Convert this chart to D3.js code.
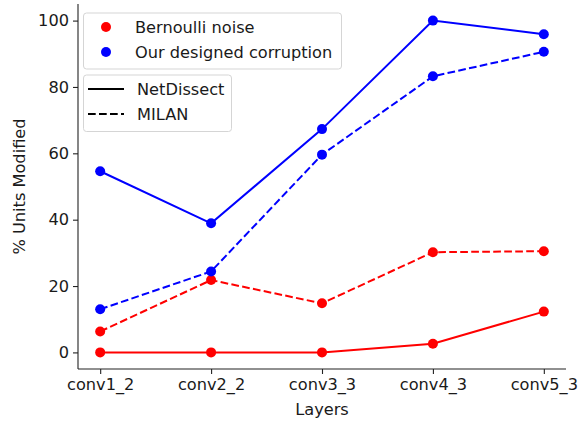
<!DOCTYPE html>
<html lang="en">
<head>
  <meta charset="UTF-8" />
  <title>Units Modified</title>
  <script src="https://d3js.org/d3.v7.min.js"></script>
  <style>
    body { margin: 0; background: white; font-family: "DejaVu Sans", sans-serif; }
    text { font-family: "DejaVu Sans", sans-serif; fill: #1a1a1a; }
  </style>
</head>
<body>
  <svg width="584" height="421"></svg>

  <script>
    const layers = ['conv1_2', 'conv2_2', 'conv3_3', 'conv4_3', 'conv5_3'];
    const yTicks = [0, 20, 40, 60, 80, 100];

    const bernoulliNetDissect = [0, 0, 0, 2.6, 12.3];
    const bernoulliMilan = [6.3, 21.8, 14.8, 30.2, 30.5];
    const designedNetDissect = [54.6, 38.9, 67.3, 100, 95.9];
    const designedMilan = [13.0, 24.4, 59.6, 83.2, 90.6];

    const series = [
      { values: bernoulliNetDissect, color: 'red', dashed: false },
      { values: bernoulliMilan, color: 'red', dashed: true },
      { values: designedNetDissect, color: 'blue', dashed: false },
      { values: designedMilan, color: 'blue', dashed: true },
    ];

    const m = { left: 78, right: 566, top: 4, bottom: 369 };
    const fs = '16.2px';

    const x = d3.scaleLinear().domain([-0.2, layers.length - 1 + 0.2]).range([m.left, m.right]);
    const y = d3.scaleLinear().domain([-5, 105]).range([m.bottom, m.top]);

    const svg = d3.select('svg');

    // axes
    const xAxis = svg.append('g')
      .attr('transform', `translate(0,${m.bottom})`)
      .call(d3.axisBottom(x).tickValues(d3.range(layers.length)).tickFormat(i => layers[i]).tickSize(5).tickPadding(4));
    const yAxis = svg.append('g')
      .attr('transform', `translate(${m.left},0)`)
      .call(d3.axisLeft(y).tickValues(yTicks).tickSize(5).tickPadding(4));

    [xAxis, yAxis].forEach(a => {
      a.selectAll('.domain').attr('stroke', '#222').attr('stroke-width', 1.1);
      a.selectAll('.tick line').attr('stroke', '#222').attr('stroke-width', 1.1);
      a.selectAll('.tick text').attr('font-size', fs).attr('fill', '#1a1a1a');
    });
    xAxis.select('.domain').attr('d', `M${m.left},0H${m.right}`);
    yAxis.select('.domain').attr('d', `M0,${m.bottom}V${m.top}`);

    svg.append('text')
      .attr('x', (m.left + m.right) / 2)
      .attr('y', 415)
      .attr('text-anchor', 'middle')
      .attr('font-size', fs)
      .text('Layers');

    svg.append('text')
      .attr('transform', `translate(25,${(m.top + m.bottom) / 2}) rotate(-90)`)
      .attr('text-anchor', 'middle')
      .attr('font-size', fs)
      .text('% Units Modified');

    const line = d3.line().x((d, i) => x(i)).y(d => y(d));

    const g = svg.append('g');
    series.forEach(s => {
      g.append('path')
        .attr('d', line(s.values))
        .attr('fill', 'none')
        .attr('stroke', s.color)
        .attr('stroke-width', 2)
        .attr('stroke-dasharray', s.dashed ? '7.7,3.3' : null);
      g.selectAll(null)
        .data(s.values)
        .enter()
        .append('circle')
        .attr('cx', (d, i) => x(i))
        .attr('cy', d => y(d))
        .attr('r', 5)
        .attr('fill', s.color);
    });

    // legends
    function legendBox(x0, y0, w, h) {
      svg.append('rect')
        .attr('x', x0).attr('y', y0).attr('width', w).attr('height', h)
        .attr('rx', 3)
        .attr('fill', 'white').attr('fill-opacity', 0.8)
        .attr('stroke', '#d5d5d5').attr('stroke-width', 1);
    }

    const colorLegend = [
      { label: 'Bernoulli noise', color: 'red' },
      { label: 'Our designed corruption', color: 'blue' },
    ];
    legendBox(83.5, 13, 258, 56);
    colorLegend.forEach((d, i) => {
      const cy = 27 + i * 25;
      svg.append('circle').attr('cx', 106).attr('cy', cy).attr('r', 5).attr('fill', d.color);
      svg.append('text').attr('x', 135).attr('y', cy + 5.8).attr('font-size', fs).text(d.label);
    });

    const styleLegend = [
      { label: 'NetDissect', dashed: false },
      { label: 'MILAN', dashed: true },
    ];
    legendBox(83.5, 75, 148, 56.5);
    styleLegend.forEach((d, i) => {
      const cy = 89 + i * 25;
      svg.append('line')
        .attr('x1', 88).attr('x2', 124).attr('y1', cy).attr('y2', cy)
        .attr('stroke', 'black').attr('stroke-width', 2)
        .attr('stroke-dasharray', d.dashed ? '7.7,3.3' : null);
      svg.append('text').attr('x', 137).attr('y', cy + 5.8).attr('font-size', fs).text(d.label);
    });
  </script>
</body>
</html>
